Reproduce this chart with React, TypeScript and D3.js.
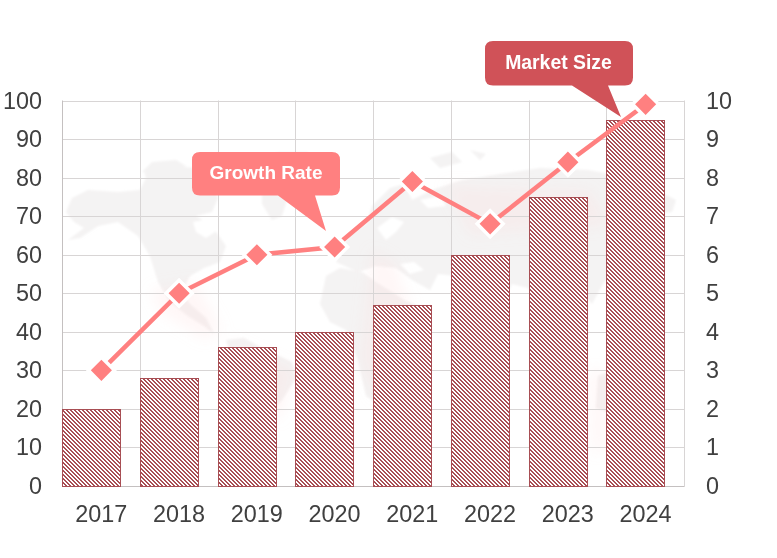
import React from "react";
import * as d3 from "d3";

const years = ["2017", "2018", "2019", "2020", "2021", "2022", "2023", "2024"];
const marketSize = [20, 28, 36, 40, 47, 60, 75, 95];
const growthRate = [3, 5, 6, 6.2, 7.9, 6.8, 8.4, 9.9];
const leftTicks = [0, 10, 20, 30, 40, 50, 60, 70, 80, 90, 100];
const rightTicks = [0, 1, 2, 3, 4, 5, 6, 7, 8, 9, 10];
const hatchRows = [0, 1, 2, 3];

// Decorative world-map watermark outlines (background art, not data)
const mapGray = [
  "M66,212 L72,198 L88,190 L118,192 L140,190 L146,178 L144,170 L165,165 L195,168 L210,182 L218,198 L212,212 L196,216 L212,226 L226,246 L220,262 L204,268 L190,276 L181,292 L190,304 L206,318 L214,334 L204,326 L188,316 L170,302 L158,282 L150,256 L138,236 L118,222 L98,226 L80,238 L68,240 L84,228 L74,222 Z",
  "M142,172 L152,162 L176,160 L186,166 L170,172 Z",
  "M262,186 L250,170 L256,158 L280,152 L308,152 L302,170 L290,190 L282,216 L272,220 L262,204 Z",
  "M226,340 L244,338 L262,348 L292,362 L296,378 L282,400 L270,412 L250,400 L236,372 Z",
  "M326,276 L340,268 L362,272 L376,282 L392,292 L404,300 L418,306 L414,330 L400,356 L394,388 L378,404 L366,396 L358,360 L346,330 L330,322 L320,304 Z",
  "M336,262 L342,246 L352,232 L366,224 L372,206 L390,188 L404,184 L412,200 L432,190 L462,180 L500,174 L540,168 L588,170 L632,178 L676,200 L672,212 L652,214 L642,232 L628,248 L616,268 L604,282 L592,304 L578,288 L568,304 L556,322 L540,306 L528,288 L512,284 L500,310 L484,320 L470,294 L456,276 L438,274 L430,290 L412,280 L396,268 L376,266 L358,272 Z",
  "M598,376 L622,366 L646,378 L652,408 L636,422 L612,414 L596,408 Z",
  "M470,150 L486,154 L480,160 Z",
  "M430,158 L452,152 L462,162 L440,168 Z",
];
const mapWhite = [
  "M193,222 L208,219 L218,230 L206,238 L196,232 Z",
  "M377,228 L392,217 L404,222 L396,232 L386,240 Z",
  "M400,264 L414,262 L424,270 L410,274 Z",
  "M373,266 L386,270 L392,290 L380,284 Z",
  "M420,200 L440,196 L446,206 L428,208 Z",
];
const mapPink = [
  "M150,290 L196,282 L222,330 L205,340 L160,312 Z",
  "M230,340 L296,370 L280,420 L250,402 Z",
  "M445,185 L590,190 L610,225 L470,235 Z",
  "M372,250 L395,262 L412,310 L392,380 L376,400 L360,360 Z",
  "M590,368 L606,372 L606,450 L592,452 Z",
];

const W = 777, H = 558;
const x = d3.scaleBand<string>().domain(years).range([62.5, 684.5]);
const yL = d3.scaleLinear().domain([0, 100]).range([486, 100.5]);
const yR = d3.scaleLinear().domain([0, 10]).range([486, 100.5]);
const cx = (y: string) => (x(y) as number) + x.bandwidth() / 2;
const left = (y: string) => Math.floor(x(y) as number) + 0.5;
const barW = 58;
const diamond = d3.symbol().type(d3.symbolSquare).size(340)()!;
const line = d3.line<number>().x((_, i) => cx(years[i])).y(d => yR(d));

const font = "'Liberation Sans', Arial, sans-serif";

function callout(rx: number, ry: number, rw: number, rh: number, t1: number, t2: number, tx: number, ty: number) {
  const r = 8;
  const b = ry + rh, e = rx + rw;
  return `M${rx + r},${ry} H${e - r} Q${e},${ry} ${e},${ry + r} V${b - r} Q${e},${b} ${e - r},${b} H${t2} L${tx},${ty} L${t1},${b} H${rx + r} Q${rx},${b} ${rx},${b - r} V${ry + r} Q${rx},${ry} ${rx + r},${ry} Z`;
}

export default function App() {
  return (
    <svg width={W} height={H} style={{ position: "fixed", left: 0, top: 0, background: "#fff" }} fontFamily={font}>
      <defs>
        <pattern id="hatch" width={4} height={4} patternUnits="userSpaceOnUse">
          <rect width={4} height={4} fill="#ffffff" />
          {hatchRows.map(r => (
            <g key={r} shapeRendering="crispEdges" fill="#a94e54">
              <rect x={r} y={r} width={Math.min(2, 4 - r)} height={1} />
              {r === 3 && <rect x={0} y={3} width={1} height={1} />}
            </g>
          ))}
        </pattern>
        <filter id="soft" x="-10%" y="-10%" width="120%" height="120%">
          <feGaussianBlur stdDeviation="0.8" />
        </filter>
        <filter id="softer" x="-30%" y="-30%" width="160%" height="160%">
          <feGaussianBlur stdDeviation="7" />
        </filter>
      </defs>

      <g filter="url(#soft)">
        {mapGray.map((d, i) => <path key={i} d={d} fill="#f4f3f3" />)}
        {mapWhite.map((d, i) => <path key={i} d={d} fill="#fff" />)}
      </g>
      <g filter="url(#softer)">
        {mapPink.map((d, i) => <path key={i} d={d} fill="#ffd9d9" opacity={0.22} />)}
      </g>

      <g stroke="#d8d5d5" strokeWidth={1}>
        {leftTicks.map(t => (
          <line key={t} x1={62.5} x2={684.5} y1={Math.round(yL(t)) + 0.5} y2={Math.round(yL(t)) + 0.5} />
        ))}
        {years.map((y, i) => (
          <line key={y} x1={left(y)} x2={left(y)} y1={100.5} y2={486} opacity={i === 0 ? 0 : 1} />
        ))}
        <line x1={684.5} x2={684.5} y1={100.5} y2={486} />
        <line x1={62.5} x2={62.5} y1={100.5} y2={486} stroke="#c4c0c0" />
        <line x1={62.5} x2={684.5} y1={486.5} y2={486.5} stroke="#c4c0c0" />
      </g>

      {years.map((y, i) => (
        <rect
          key={y}
          x={left(y)}
          y={Math.round(yL(marketSize[i])) + 0.5}
          width={barW}
          height={486 - Math.round(yL(marketSize[i]))}
          fill="url(#hatch)"
          stroke="#a84e54"
          strokeWidth={1}
        />
      ))}

      <path d={line(growthRate)!} fill="none" stroke="#ff8080" strokeWidth={4.5} />
      {years.map((y, i) => (
        <path
          key={y}
          d={diamond}
          transform={`translate(${cx(y)},${yR(growthRate[i])}) rotate(45)`}
          fill="#ff8080"
          stroke="#ffffff"
          strokeWidth={3.5}
        />
      ))}

      <g fontSize={23.4} fill="#404040">
        {leftTicks.map(t => (
          <text key={t} x={42} y={yL(t) + 8} textAnchor="end">{t}</text>
        ))}
        {rightTicks.map(t => (
          <text key={t} x={706} y={yR(t) + 8}>{t}</text>
        ))}
        {years.map(y => (
          <text key={y} x={cx(y)} y={522} textAnchor="middle">{y}</text>
        ))}
      </g>

      <path d={callout(192, 152, 148, 43.5, 278, 315, 326, 231)} fill="#ff8080" />
      <text x={266} y={179} textAnchor="middle" fontSize={19} fontWeight="bold" fill="#fff">Growth Rate</text>

      <path d={callout(485, 41, 148, 44.5, 572, 608, 621, 117)} fill="#d05258" />
      <text x={558.5} y={69} textAnchor="middle" fontSize={19.4} fontWeight="bold" fill="#fff">Market Size</text>
    </svg>
  );
}
